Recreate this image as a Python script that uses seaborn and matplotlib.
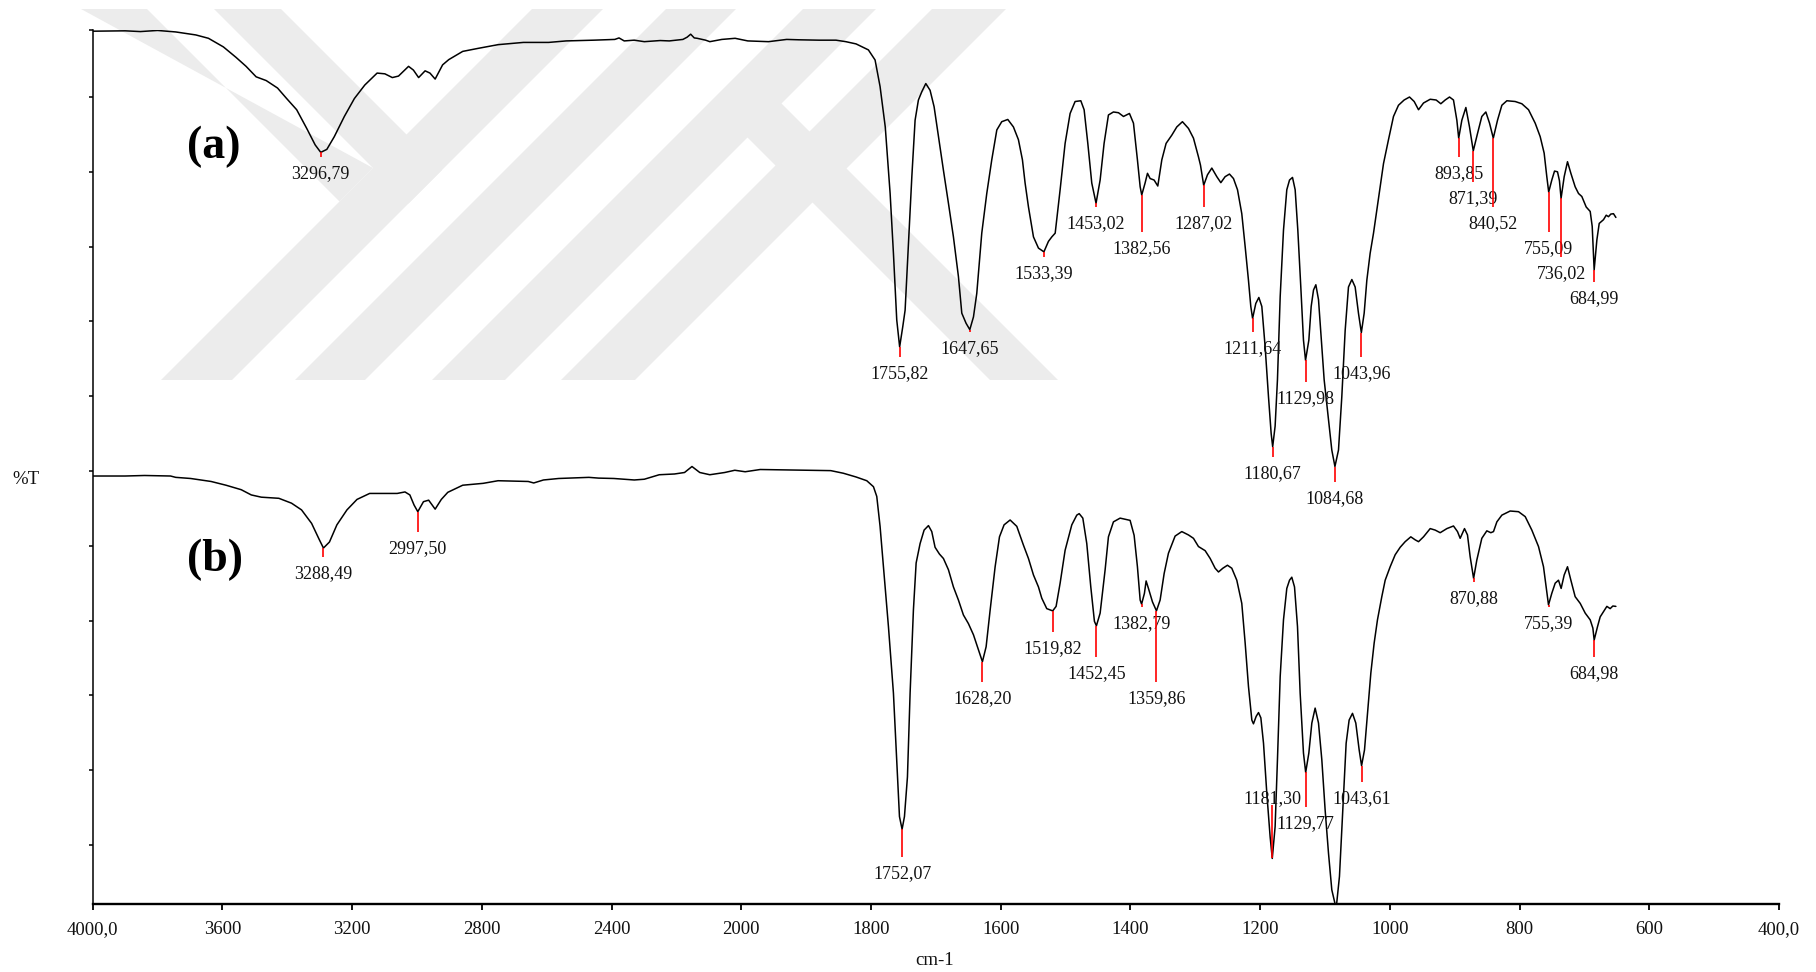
import numpy as np
import pandas as pd
import matplotlib
matplotlib.use("Agg")
import matplotlib.pyplot as plt
from matplotlib.patches import Polygon
import seaborn as sns

# ---------------- spectrum (a) : wavenumber (cm-1) / %T ----------------
wn_a = [4000, 3900, 3853, 3800, 3744, 3713, 3682, 3643, 3597, 3558, 3527, 3496,
        3465, 3430, 3402, 3371, 3340, 3314, 3296.79, 3278, 3255, 3224, 3193, 3161,
        3123, 3099, 3076, 3057, 3026, 3011, 2995, 2975, 2960, 2944, 2921, 2902,
        2859, 2812, 2750, 2672, 2594, 2540, 2455, 2390, 2377, 2361, 2330, 2299,
        2250, 2222, 2180, 2167, 2156, 2145, 2136, 2110, 2097, 2060, 2019, 1990,
        1958, 1930, 1911, 1880, 1854, 1838.8, 1823, 1804, 1793.7, 1786, 1778,
        1770.5, 1765.4, 1760.3, 1755.82, 1751, 1747.4, 1742.3, 1737, 1732, 1726.9,
        1721.7, 1715.5, 1708.9, 1702.7, 1696, 1688.3, 1680.6, 1672.9, 1665.2, 1660,
        1653.4, 1647.65, 1642, 1636.9, 1629.2, 1621.5, 1613.8, 1606, 1598.4, 1589.1,
        1580.4, 1572.7, 1566.5, 1562.4, 1557.2, 1549.5, 1541.8, 1533.39, 1526.4,
        1521.2, 1516, 1508.4, 1500.7, 1493, 1485.3, 1476.5, 1471.4, 1465.7, 1459.6,
        1453.02, 1446.7, 1440.6, 1433.9, 1426.2, 1418.4, 1410.7, 1401.5, 1395.3,
        1389.2, 1385, 1382.56, 1377.4, 1373.7, 1369.6, 1363.5, 1357.8, 1351.6, 1345,
        1336.2, 1328.5, 1319.8, 1310.5, 1302.8, 1295.1, 1292, 1287.02, 1281.2,
        1274.5, 1266.8, 1260.6, 1254, 1247.3, 1241.1, 1234.9, 1228.3, 1223.1, 1218,
        1214.4, 1211.64, 1206.7, 1202, 1197.4, 1192.3, 1187.1, 1183, 1180.67,
        1176.9, 1173.3, 1169.1, 1164, 1158.9, 1154.7, 1150.1, 1146, 1141.9, 1137.3,
        1133.2, 1129.98, 1124.9, 1121.3, 1117.7, 1114.1, 1110, 1106.4, 1101.3,
        1095.6, 1089.5, 1084.68, 1079.2, 1074.1, 1068.9, 1063.8, 1058.6, 1053.5,
        1048.4, 1043.96, 1039.6, 1035.5, 1030.4, 1025.2, 1020.1, 1014.9, 1009.8,
        1002.1, 994.4, 986.7, 978, 969.7, 962.5, 955.8, 948.1, 937.8, 928.6, 921.4,
        914.7, 908, 901.9, 896.7, 893.85, 889, 882.8, 877.2, 871.39, 864.9, 858.2,
        852, 846.3, 840.52, 834, 827.3, 819.6, 806.8, 796.5, 786.2, 775.9, 768.2,
        762.1, 758, 755.09, 750.3, 746.1, 741.5, 738.5, 736.02, 731.2, 726.1, 720.9,
        714.3, 709.1, 704, 697.3, 691.1, 688, 684.99, 680.8, 677.2, 670.6, 666.4,
        662.9, 659.3, 655.2, 651.5]
t_a = [118.8, 118.85, 118.75, 118.9, 118.7, 118.5, 118.3, 117.85, 116.7, 115.3,
       114.1, 112.7, 112.2, 111.2, 109.8, 108.3, 105.8, 103.6, 102.6, 103.0, 104.7,
       107.4, 109.8, 111.6, 113.2, 113.1, 112.6, 112.8, 114.1, 113.6, 112.6, 113.5,
       113.2, 112.4, 114.3, 115.0, 116.1, 116.5, 117.0, 117.3, 117.3, 117.5, 117.6,
       117.7, 117.9, 117.5, 117.6, 117.4, 117.55, 117.5, 117.7, 118.0, 118.4, 117.9,
       117.85, 117.6, 117.4, 117.7, 117.85, 117.5, 117.4, 117.7, 117.65, 117.6,
       117.6, 117.4, 117.1, 116.3, 114.95, 111.4, 106.0, 97.1, 89.1, 80.2, 76.6,
       79.3, 81.5, 90.4, 99.4, 106.9, 109.6, 110.7, 111.8, 110.9, 108.7, 104.7,
       100.2, 95.8, 91.3, 86.0, 81.1, 79.75, 78.9, 80.6, 83.75, 91.8, 97.1, 101.6,
       105.6, 106.7, 107.0, 106.0, 104.3, 101.6, 98.5, 95.3, 91.3, 89.8, 89.3, 90.7,
       91.3, 91.8, 97.6, 103.8, 107.8, 109.4, 109.5, 108.3, 103.8, 98.5, 95.8, 98.9,
       103.8, 107.6, 108.0, 107.9, 107.4, 107.8, 106.5, 101.6, 98.0, 96.9, 98.5,
       99.8, 99.1, 98.9, 98.1, 101.6, 103.8, 104.9, 106.0, 106.7, 105.8, 104.5,
       102.0, 100.9, 98.2, 99.6, 100.5, 99.35, 98.55, 99.35, 99.7, 99.1, 97.6, 94.4,
       90.0, 85.5, 82.0, 80.4, 82.4, 83.2, 82.0, 76.6, 69.9, 65.0, 63.25, 66.0,
       72.2, 83.3, 92.2, 97.6, 98.9, 99.25, 97.6, 92.2, 84.6, 77.5, 74.8, 77.5,
       82.0, 84.2, 84.9, 82.9, 78.4, 72.2, 67.7, 62.8, 60.6, 62.8, 69.9, 78.8, 84.6,
       85.6, 84.6, 81.1, 78.5, 81.1, 85.5, 89.1, 91.8, 94.9, 98.0, 101.1, 104.3,
       107.4, 108.9, 109.6, 110.0, 109.4, 108.3, 109.2, 109.7, 109.6, 109.1, 109.6,
       110.0, 109.6, 106.9, 104.5, 106.9, 108.6, 106.0, 102.8, 105.1, 107.4, 108.0,
       106.5, 104.5, 106.9, 108.9, 109.5, 109.4, 109.1, 108.3, 106.5, 104.7, 102.5,
       99.35, 97.3, 98.9, 100.1, 100.0, 98.8, 96.45, 99.35, 101.35, 99.8, 98.0,
       97.1, 96.7, 95.3, 94.7, 92.7, 86.9, 90.9, 93.1, 93.6, 94.2, 94.0, 94.35,
       94.4, 93.9]

# ---------------- spectrum (b) : wavenumber (cm-1) / %T ----------------
wn_b = [4000, 3900, 3840, 3760, 3744, 3698, 3635, 3589, 3542, 3511, 3480, 3426,
        3387, 3356, 3325, 3301, 3288.49, 3270, 3247, 3216, 3185, 3146, 3107, 3061,
        3037, 3022, 3009, 2997.5, 2980, 2964, 2944, 2925, 2905, 2859, 2796, 2750,
        2657, 2640, 2610, 2563, 2470, 2440, 2393, 2330, 2299, 2253, 2206, 2175,
        2152, 2128, 2097, 2051, 2020, 1994, 1970.8, 1916.5, 1862, 1842.6, 1823,
        1806.5, 1796.2, 1791.1, 1786, 1780.8, 1773.1, 1765.4, 1760.3, 1756.1,
        1752.07, 1748.4, 1743.8, 1739.7, 1734.6, 1730.4, 1724.3, 1718.1, 1711.4,
        1706.3, 1701.2, 1694.5, 1688.3, 1680.6, 1672.9, 1665.2, 1657.5, 1649.8,
        1642, 1634.3, 1628.2, 1622.5, 1616.3, 1608.6, 1601.9, 1594.8, 1585.5,
        1575.2, 1565, 1557.2, 1549.5, 1541.8, 1536.7, 1529, 1519.82, 1514.6, 1508.4,
        1500.7, 1490.4, 1482.7, 1479, 1473.4, 1467.3, 1461.1, 1455.5, 1452.45,
        1446.7, 1439, 1433.9, 1426.2, 1415.9, 1400.5, 1394.3, 1389.2, 1385, 1382.79,
        1378.4, 1375.8, 1372.2, 1366, 1359.86, 1354.2, 1348, 1341.4, 1331.1, 1320.8,
        1310.5, 1302.8, 1295.1, 1284.8, 1277, 1269.4, 1264.2, 1257.5, 1250.4,
        1243.7, 1236, 1228.3, 1223.1, 1218, 1212.8, 1210.3, 1206.1, 1202.5, 1198.9,
        1194.8, 1189.7, 1184.6, 1181.3, 1176.9, 1173.3, 1169.1, 1164, 1158.9,
        1154.7, 1151.2, 1147, 1142.4, 1138.3, 1133.2, 1129.77, 1124.9, 1120.3,
        1115.2, 1110, 1104.9, 1099.8, 1094.6, 1089.5, 1082.8, 1077.7, 1072.5,
        1067.4, 1062.8, 1057.6, 1052.5, 1047.3, 1043.61, 1039.1, 1034.5, 1029.3,
        1024.2, 1019.1, 1012.4, 1007.2, 999.5, 991.8, 984.1, 976.4, 967.7, 961,
        955.8, 948.1, 937.8, 930.1, 922.4, 912.1, 901.9, 895.7, 891.6, 884.9, 880.3,
        876.2, 870.88, 865.9, 858.2, 850.5, 844.3, 840.2, 835, 827.3, 814.5, 801.6,
        791.3, 781.1, 770.8, 763.1, 758, 755.39, 750.3, 745.1, 740, 735.9, 731.2,
        726.1, 720.9, 714.3, 706.5, 698.8, 691.1, 687, 684.98, 679.8, 675.7, 670.6,
        665.4, 660.3, 656.2, 651.5]
t_b = [59.33, 59.33, 59.4, 59.33, 59.15, 59.0, 58.6, 58.1, 57.5, 56.8, 56.5, 56.35,
       55.7, 54.8, 53.0, 50.8, 49.7, 50.5, 52.8, 54.8, 56.2, 57.0, 57.0, 57.0, 57.2,
       56.8, 55.45, 54.56, 55.9, 56.1, 54.9, 56.2, 57.15, 58.1, 58.35, 58.7, 58.6,
       58.4, 58.8, 59.0, 59.15, 59.05, 59.0, 58.8, 58.9, 59.5, 59.6, 59.8, 60.6,
       59.8, 59.5, 59.8, 60.1, 59.9, 60.2, 60.13, 60.05, 59.7, 59.2, 58.7, 57.9,
       56.6, 52.6, 47.2, 39.2, 30.3, 21.4, 13.8, 12.1, 13.8, 19.1, 30.3, 41.4, 47.7,
       50.3, 52.1, 52.7, 51.9, 49.8, 48.9, 48.3, 46.8, 44.5, 42.75, 40.75, 39.6,
       38.1, 36.1, 34.5, 36.5, 41.4, 47.2, 51.2, 52.8, 53.45, 52.6, 50.1, 48.3,
       46.1, 44.5, 43.0, 41.6, 41.3, 41.9, 45.0, 49.4, 52.8, 54.1, 54.3, 53.7, 50.3,
       44.5, 39.9, 39.3, 41.0, 46.8, 51.2, 53.2, 53.7, 53.4, 51.4, 47.2, 42.75, 42.2,
       43.65, 45.3, 44.3, 42.5, 41.3, 42.75, 46.3, 49.0, 51.3, 51.9, 51.45, 51.0,
       49.9, 49.35, 48.3, 47.0, 46.5, 47.0, 47.4, 47.0, 45.4, 42.3, 37.0, 31.2,
       26.7, 26.2, 27.2, 27.7, 27.0, 23.6, 16.9, 11.1, 8.2, 12.45, 21.4, 32.5, 40.1,
       44.3, 45.4, 45.8, 44.5, 39.2, 30.3, 22.3, 19.7, 22.3, 26.3, 28.3, 26.3, 21.4,
       14.7, 8.9, 4.0, 1.5, 5.8, 14.7, 23.6, 26.7, 27.6, 26.3, 22.7, 20.6, 22.7,
       27.6, 33.0, 37.0, 40.1, 43.2, 45.4, 47.2, 48.8, 49.8, 50.55, 51.2, 50.8,
       50.55, 51.2, 52.3, 52.1, 51.75, 52.3, 52.65, 51.9, 51.0, 52.3, 51.45, 48.55,
       45.65, 48.1, 51.0, 52.0, 51.75, 51.9, 53.2, 54.1, 54.65, 54.56, 53.9, 52.1,
       49.9, 47.2, 43.9, 42.1, 43.65, 45.0, 45.4, 44.3, 46.1, 47.2, 45.4, 43.2,
       42.3, 41.0, 40.1, 39.0, 37.4, 39.2, 40.5, 41.2, 41.9, 41.6, 41.95, 41.9]

# ---------------- marked peaks and the %T level where each marker ends ----------------
peaks_a = [3296.79, 1755.82, 1647.65, 1533.39, 1453.02, 1382.56, 1287.02, 1211.64,
           1180.67, 1129.98, 1084.68, 1043.96, 893.85, 871.39, 840.52, 755.09,
           736.02, 684.99]
marker_end_a = [102.02, 75.28, 78.62, 88.65, 95.33, 91.99, 95.33, 78.62, 61.91,
                71.94, 58.57, 75.28, 102.02, 98.68, 95.33, 91.99, 88.65, 85.31]
peaks_b = [3288.49, 2997.50, 1752.07, 1628.20, 1519.82, 1452.45, 1382.79, 1359.86,
           1181.30, 1129.77, 1043.61, 870.88, 755.39, 684.98]
marker_end_b = [48.54, 51.88, 8.44, 31.83, 38.52, 35.17, 41.86, 31.83, 15.35,
                15.12, 18.46, 45.20, 41.86, 35.17]

xtick_vals = [4000, 3600, 3200, 2800, 2400, 2000, 1800, 1600, 1400, 1200, 1000,
              800, 600, 400]
xtick_text = ["4000,0", "3600", "3200", "2800", "2400", "2000", "1800", "1600",
              "1400", "1200", "1000", "800", "600", "400,0"]
ytick_vals = [10, 20, 30, 40, 50, 60, 70, 80, 90, 100, 110, 118.96]

# ---------------------------------------------------------------------------
sns.set_theme(style="white")
plt.rcParams["font.family"] = ["Liberation Serif", "DejaVu Serif"]

W, H = 1816, 972
fig = plt.figure(figsize=(W / 100, H / 100), dpi=100)
fig.patch.set_facecolor("white")

# light diagonal band emblem behind the plot (figure pixel coordinates, y down)
bands = [
    [(81, 9), (147, 9), (339.5, 201.5), (373, 168)],
    [(214, 9), (281, 9), (442, 170), (408.5, 203.5)],
    [(532, 9), (603, 9), (232, 380), (161, 380)],
    [(666, 9), (736, 9), (365, 380), (295, 380)],
    [(803, 9), (876, 9), (505, 380), (432, 380)],
    [(932, 9), (1006, 9), (635, 380), (561, 380)],
    [(742.5, 132.5), (776.5, 98.5), (1058, 380), (990, 380)],
]
for poly in bands:
    pts = [(x / W, 1 - y / H) for x, y in poly]
    fig.add_artist(Polygon(pts, closed=True, transform=fig.transFigure,
                           facecolor="#ececec", edgecolor="none", zorder=-5))

ax = fig.add_axes([92.7 / W, 68 / H, (1779 - 92.7) / W, 874 / H])
ax.patch.set_visible(False)


def _fwd(w):
    w = np.asarray(w, dtype=float)
    return np.where(w > 2000, 2000 + (w - 2000) / 2.0, w)


def _inv(u):
    u = np.asarray(u, dtype=float)
    return np.where(u > 2000, 2000 + (u - 2000) * 2.0, u)


df_a = pd.DataFrame({"wavenumber": wn_a, "T": t_a})
df_b = pd.DataFrame({"wavenumber": wn_b, "T": t_b})
for df in (df_a, df_b):
    sns.lineplot(data=df, x="wavenumber", y="T", ax=ax, sort=False,
                 estimator=None, color="black", linewidth=1.1, zorder=3)

ax.set_xscale("function", functions=(_fwd, _inv))
ax.set_xlim(4000, 400)
ax.set_ylim(2.11, 118.96)


def mark_peaks(wn, tr, peaks, ends):
    order = np.argsort(wn)
    xs = np.asarray(wn)[order]
    ys = np.asarray(tr)[order]
    for p, e in zip(peaks, ends):
        y0 = float(np.interp(p, xs, ys))
        ax.vlines(p, min(y0, e), max(y0, e), color="red", linewidth=1.2, zorder=4)
        label = f"{p:.2f}".replace(".", ",")
        if e > y0:
            ax.annotate(label, xy=(p, e), xytext=(0, 1.2), textcoords="offset points",
                        ha="center", va="baseline", fontsize=13, color="#111111")
        else:
            ax.annotate(label, xy=(p, e), xytext=(0, -6.2), textcoords="offset points",
                        ha="center", va="top", fontsize=13, color="#111111")


mark_peaks(wn_a, t_a, peaks_a, marker_end_a)
mark_peaks(wn_b, t_b, peaks_b, marker_end_b)

ax.text(3626, 103.3, "(a)", ha="center", va="center", fontsize=33,
        fontweight="bold", color="black")
ax.text(3623, 48.1, "(b)", ha="center", va="center", fontsize=33,
        fontweight="bold", color="black")

ax.set_xticks(xtick_vals)
ax.set_xticklabels(xtick_text)
ax.set_yticks(ytick_vals)
ax.set_yticklabels([])
ax.minorticks_off()
ax.set_xlabel("")
ax.set_ylabel("")

for side in ("top", "right"):
    ax.spines[side].set_visible(False)
ax.spines["left"].set_linewidth(1.1)
ax.spines["bottom"].set_linewidth(1.7)
for side in ("left", "bottom"):
    ax.spines[side].set_color("black")

ax.tick_params(axis="x", direction="out", length=4.5, width=1.3, color="black",
               pad=8, labelsize=13.5, labelcolor="#111111", bottom=True)
ax.tick_params(axis="y", direction="out", length=3.2, width=1.1, color="black",
               left=True)
ax.grid(False)

fig.text(935 / W, 1 - 960 / H, "cm-1", ha="center", va="center", fontsize=13.5,
         color="#111111")
fig.text(26 / W, 1 - 479 / H, "%T", ha="center", va="center", fontsize=13.5,
         color="#111111")

fig.savefig("out.png", dpi=100, facecolor="white")
